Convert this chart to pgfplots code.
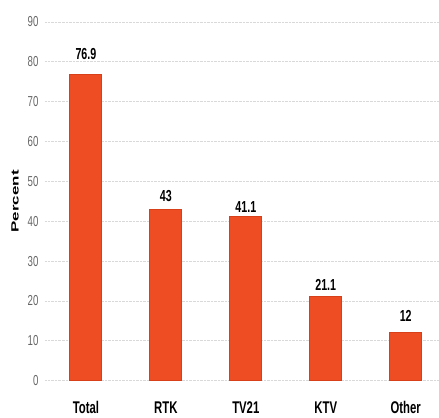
\documentclass[border=0pt]{standalone}
\usepackage{pgfplots}
\pgfplotsset{compat=1.18}
\usepackage{fontspec}
\setmainfont{Liberation Sans}[FakeStretch=0.67]
\newfontfamily\plainfont{Liberation Sans}
\definecolor{barc}{HTML}{EE4C22}
\definecolor{bard}{HTML}{D84019}
\definecolor{tickc}{HTML}{666666}
\begin{document}
\begin{tikzpicture}
\begin{axis}[
  at={(0,0)}, anchor=south west,
  scale only axis,
  width=394bp, height=359bp,
  xmin=-0.5125, xmax=4.4125,
  ymin=0, ymax=90,
  ytick={0,10,...,90},
  xtick=data,
  xticklabels={Total,RTK,TV21,KTV,Other},
  axis line style={draw=none},
  tick style={draw=none},
  ymajorgrids,
  grid style={densely dotted, color=black!15, line width=0.7pt},
  yticklabel style={font=\fontsize{14.5}{15}\selectfont, text=tickc, xshift=-3bp},
  xticklabel style={font=\fontsize{17}{18}\selectfont\bfseries, yshift=-13bp},
  /pgf/number format/assume math mode=true,
  ylabel={\scalebox{1}[0.62]{\plainfont\bfseries Percent}},
  ylabel style={font=\fontsize{17}{18}\selectfont, at={(axis description cs:-0.0761,0.5)}, anchor=center},
  nodes near coords,
  visualization depends on={value \thisrow{off} \as \labshift},
  nodes near coords style={font=\fontsize{16}{17}\selectfont\bfseries, text=black, yshift={\labshift*1bp}},
  point meta=explicit symbolic,
  ybar, bar width=32bp,
]
\addplot[fill=barc, draw=bard, line width=0.9pt] table[x=x, y=y, meta=lab] {
x y lab off
0 76.9 76.9 11
1 43 43 4
2 41.1 41.1 1
3 21.1 21.1 2
4 12 12 8
};
\end{axis}
\path[use as bounding box] (-45bp,-35bp) rectangle (394bp,381bp);
\end{tikzpicture}
\end{document}
